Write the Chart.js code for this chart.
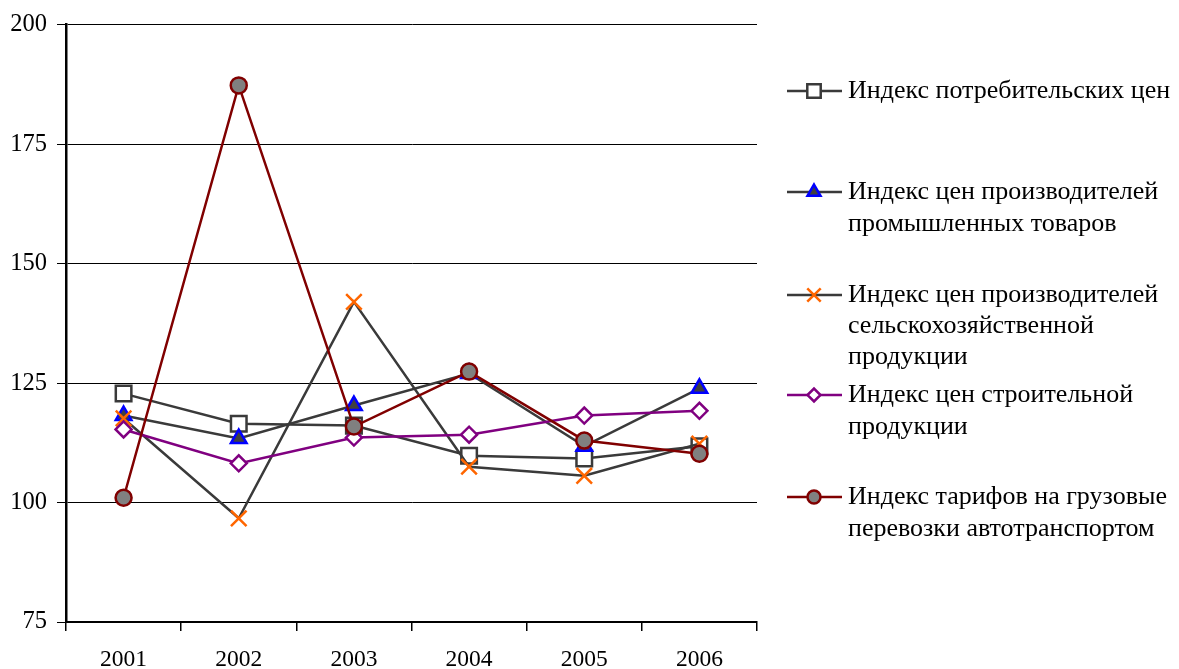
<!DOCTYPE html>
<html><head><meta charset="utf-8">
<script src="https://cdn.jsdelivr.net/npm/chart.js@4/dist/chart.umd.min.js"></script>
<style>html,body{margin:0;padding:0;background:#fff}#wrap{width:1179px;height:669px;position:relative}</style>
</head><body><div id="wrap"><canvas id="c"></canvas></div>
<script>
const years = ['2001','2002','2003','2004','2005','2006'];
const cpi = [122.8, 116.5, 116.1, 109.8, 109.2, 111.8];
const ppiIndustry = [118.2, 113.4, 120.3, 127.0, 111.8, 123.9];
const ppiAgri = [117.6, 96.7, 142.0, 107.5, 105.6, 112.3];
const construction = [115.3, 108.2, 113.6, 114.2, 118.2, 119.2];
const freight = [101.0, 187.3, 115.9, 127.4, 113.0, 110.2];
const legendLabels = [
  ['Индекс потребительских цен'],
  ['Индекс цен производителей','промышленных товаров'],
  ['Индекс цен производителей','сельскохозяйственной','продукции'],
  ['Индекс цен строительной','продукции'],
  ['Индекс тарифов на грузовые','перевозки автотранспортом']
];
const yTicks = [75, 100, 125, 150, 175, 200];

const serif = '"Liberation Serif", "Times New Roman", serif';
const datasets = [
  {data: cpi, borderColor:'#3a3a3a', pointStyle:'rect', pointRadius:11, pointBackgroundColor:'#fff', pointBorderColor:'#3a3a3a', pointBorderWidth:2.5},
  {data: ppiIndustry, borderColor:'#3a3a3a', pointStyle:'triangle', pointRadius:9, pointBackgroundColor:'#404040', pointBorderColor:'#0000ff', pointBorderWidth:2.5},
  {data: ppiAgri, borderColor:'#3a3a3a', pointStyle:'crossRot', pointRadius:11, pointBackgroundColor:'#ff6600', pointBorderColor:'#ff6600', pointBorderWidth:2.5},
  {data: construction, borderColor:'#800080', pointStyle:'rectRot', pointRadius:8, pointBackgroundColor:'#fff', pointBorderColor:'#800080', pointBorderWidth:2.5},
  {data: freight, borderColor:'#800000', pointStyle:'circle', pointRadius:8, pointBackgroundColor:'#808080', pointBorderColor:'#800000', pointBorderWidth:2.5}
].map((d,i)=>Object.assign({label: legendLabels[i].join(' '), borderWidth:2.5, tension:0, fill:false, order:5-i, pointHoverRadius:d.pointRadius}, d));

const legendPlugin = {
  id:'customLegend',
  afterDraw(chart){
    const ctx = chart.ctx;
    const rows = [[91],[192,224],[295,326,357],[395,427],[497,529]];
    chart.data.datasets.forEach((ds,i)=>{
      const y = rows[i][0];
      ctx.save();
      ctx.strokeStyle = ds.borderColor; ctx.lineWidth = 2.5;
      ctx.beginPath(); ctx.moveTo(787,y); ctx.lineTo(842,y); ctx.stroke();
      ctx.fillStyle = ds.pointBackgroundColor; ctx.strokeStyle = ds.pointBorderColor;
      ctx.lineWidth = ds.pointBorderWidth;
      Chart.helpers.drawPoint(ctx, {pointStyle: ds.pointStyle, radius: ds.pointRadius - 1.5, rotation:0, borderWidth: ds.pointBorderWidth}, 814, y);
      ctx.fillStyle = '#000'; ctx.font = '26px ' + serif; ctx.textBaseline = 'middle'; ctx.textAlign='left';
      legendLabels[i].forEach((t,j)=>ctx.fillText(t, 848, rows[i][j]));
      ctx.restore();
    });
  }
};

new Chart(document.getElementById('c'), {
  type:'line',
  data:{labels: years, datasets},
  options:{
    responsive:true, maintainAspectRatio:false, animation:false,
    layout:{padding:{top:24, right:422, left:0, bottom:0}},
    plugins:{legend:{display:false}, tooltip:{enabled:false}},
    scales:{
      x:{
        offset:true,
        grid:{display:true, offset:true, drawOnChartArea:false, drawTicks:true, tickLength:9, color:'#000', lineWidth:1.5},
        border:{display:true, color:'#000', width:2},
        ticks:{color:'#000', font:{family:serif, size:23.5}, padding:15, maxRotation:0},
        afterFit(s){ s.height = 47; }
      },
      y:{
        min:75, max:200,
        afterBuildTicks(s){ s.ticks = yTicks.map(v=>({value:v})); },
        grid:{color:'#000', lineWidth:1, tickLength:9},
        border:{display:true, color:'#000', width:2.5},
        ticks:{color:'#000', font:{family:serif, size:24.5}, padding:10},
        afterFit(s){ s.width = 66; }
      }
    }
  },
  plugins:[legendPlugin]
});
</script></body></html>
